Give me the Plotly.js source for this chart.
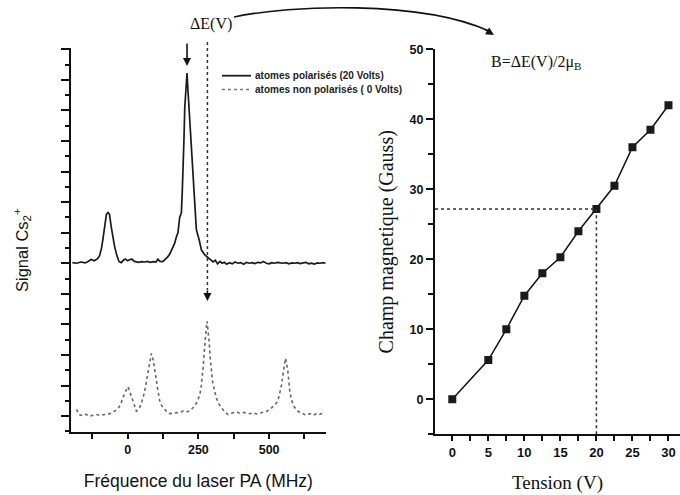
<!DOCTYPE html>
<html>
<head>
<meta charset="utf-8">
<script src="https://cdn.plot.ly/plotly-3.0.1.min.js"></script>
<style>html,body{margin:0;padding:0;background:#fff;}#chart{width:680px;height:495px;}</style>
</head>
<body>
<div id="chart"></div>
<script>
// ---- Data ----
var seriesNames = ['atomes polarisés (20 Volts)', 'atomes non polarisés ( 0 Volts)'];

// Left panel: spectra, frequency (MHz) vs signal (arb. units)
var freqPol = [-195,-180,-165,-150,-140,-129,-118,-106,-99,-92,-87,-81,-75,-69,-64,-58,-52,-46,-38,-30,-22,-15,-8,0,8,16,24,32,40,50,60,70,80,90,100,107,115,124,133,141,149,157,166,172,178,184,190,193,196,199,202,206,210,213,217,222,229,233,237,243,253,261,273,284,292,302,310,318,326,334,342,350,360,370,380,390,400,410,420,430,440,450,460,470,480,490,500,510,520,530,540,550,560,570,580,590,600,610,620,630,640,650,660,670,680,690,700];
var sigPol = [5.02,5.00,5.04,5.01,5.06,5.12,5.08,5.15,5.25,5.5,5.8,6.3,6.6,6.66,6.6,6.2,5.85,5.55,5.25,5.05,5.02,5.1,5.14,5.08,5.12,5.13,5.06,5.04,5.03,5.05,5.04,5.06,5.03,5.05,5.04,5.13,5.06,5.05,5.12,5.2,5.3,5.45,5.65,5.85,6.0,6.5,6.65,7.3,7.95,9.0,10.1,10.9,11.22,10.7,10.1,9.05,8.15,7.5,6.85,6.1,5.76,5.43,5.27,5.18,5.1,5.04,5.1,4.98,5.06,5.0,5.03,4.97,5.02,4.98,5.04,5.0,5.02,4.97,5.03,5.0,5.02,4.99,5.03,5.01,5.06,5.0,4.98,5.02,5.0,5.03,5.01,5.0,5.02,4.98,5.01,5.0,5.02,4.99,5.01,5.03,4.98,5.0,4.97,5.01,5.0,5.02,5.0];

var freqNon = [-180,-172,-160,-148,-135,-122,-110,-98,-86,-75,-64,-52,-43,-34,-27,-22,-16,-11,-5,1,6,10,15,19,25,31,37,42,50,56,60,66,72,78,84,90,96,100,104,108,113,120,131,140,149,160,172,184,196,208,220,232,243,250,255,260,264,267,270,273,276,279,281,284,288,292,296,300,305,310,314,322,332,343,355,365,375,385,395,408,420,432,444,456,468,480,491,503,515,524,532,538,544,548,552,555,558,562,566,570,574,579,585,594,603,615,625,633,645,656,666,676,684,692];
var sigNon = [0.22,0.05,0.02,0.06,0.0,0.03,0.05,0.02,0.04,0.05,0.08,0.12,0.18,0.24,0.35,0.45,0.6,0.74,0.85,0.96,0.85,0.74,0.58,0.42,0.28,0.16,0.2,0.27,0.45,0.62,0.8,1.1,1.45,1.8,2.05,1.85,1.56,1.28,1.01,0.78,0.52,0.35,0.2,0.12,0.08,0.09,0.1,0.12,0.16,0.13,0.17,0.28,0.42,0.55,0.69,0.95,1.24,1.6,2.0,2.4,2.77,3.0,3.1,2.85,2.44,1.9,1.45,1.15,0.91,0.72,0.58,0.4,0.26,0.14,0.05,0.09,0.12,0.13,0.1,0.12,0.1,0.08,0.11,0.07,0.1,0.13,0.15,0.22,0.31,0.4,0.53,0.75,1.02,1.3,1.56,1.75,1.89,1.7,1.5,1.1,0.75,0.55,0.36,0.24,0.15,0.1,0.05,0.04,0.08,0.03,0.07,0.04,0.08,0.05];

var leftXTicks = [-125, 0, 125, 250, 375, 500, 625];
var leftXLabels = ['', '0', '', '250', '', '500', ''];

// Right panel: magnetic field vs voltage
var tension = [0, 5, 7.5, 10, 12.5, 15, 17.5, 20, 22.5, 25, 27.5, 30];
var champ = [0, 5.6, 10, 14.8, 18, 20.3, 24, 27.2, 30.5, 36, 38.5, 42];
var markedIndex = 7; // 20 V point highlighted by dotted guides

// Peak positions marked by arrows (MHz)
var peakPol = 210;
var peakNon = 282;

// ---- Layout helpers (pixel -> paper) ----
var W = 680, H = 495;
function px(x) { return x / W; }
function py(y) { return 1 - y / H; }

var sans = 'Liberation Sans, Arial, sans-serif';
var serif = 'Liberation Serif, Times New Roman, serif';

var xr2 = [-2.4, 31.6];
var yr2 = [-5, 50];

var traces = [
  { x: freqPol, y: sigPol, xaxis: 'x', yaxis: 'y', type: 'scatter', mode: 'lines', name: seriesNames[0],
    line: { color: '#1a1a1a', width: 1.7 }, showlegend: false },
  { x: freqNon, y: sigNon, xaxis: 'x', yaxis: 'y', type: 'scatter', mode: 'lines', name: seriesNames[1],
    line: { color: '#666', width: 1.6, dash: 'dot' }, showlegend: false },
  { x: tension, y: champ, xaxis: 'x2', yaxis: 'y2', type: 'scatter', mode: 'lines+markers', name: 'B(V)',
    line: { color: '#111', width: 1.5 }, marker: { symbol: 'square', size: 8, color: '#1a1a1a' }, showlegend: false }
];

var axisCommon = { showgrid: false, zeroline: false, showline: true, linecolor: '#111', linewidth: 2,
  ticks: 'outside', tickcolor: '#111', tickwidth: 2, mirror: false };

var layout = {
  width: W, height: H,
  margin: { l: 0, r: 0, t: 0, b: 0 },
  paper_bgcolor: '#fff', plot_bgcolor: '#fff',
  showlegend: false,
  xaxis: Object.assign({}, axisCommon, {
    domain: [px(71), px(325.7)], range: [-200, 700], anchor: 'y',
    tickmode: 'array', tickvals: leftXTicks, ticktext: leftXLabels, ticklen: 5,
    tickfont: { family: sans, size: 12.5, color: '#111', weight: 'bold' },
    title: { text: 'Fréquence du laser PA (MHz)', font: { family: sans, size: 17.5, color: '#111' }, standoff: 19 }
  }),
  yaxis: Object.assign({}, axisCommon, {
    domain: [py(432), py(48.3)], range: [-0.52, 12.03], anchor: 'x',
    tickmode: 'linear', tick0: 0, dtick: 1, ticklen: 8, showticklabels: false,
    minor: { tickmode: 'linear', tick0: 0.5, dtick: 1, ticklen: 4, tickwidth: 2, tickcolor: '#111', ticks: 'outside', showgrid: false }
  }),
  xaxis2: Object.assign({}, axisCommon, {
    domain: [px(435), 1], range: xr2, anchor: 'y2',
    tickmode: 'linear', tick0: 0, dtick: 5, ticklen: 5,
    minor: { tickmode: 'linear', tick0: 2.5, dtick: 5, ticklen: 5, tickwidth: 2, tickcolor: '#111', ticks: 'outside', showgrid: false },
    tickfont: { family: sans, size: 13, color: '#111', weight: 'bold' },
    title: { text: 'Tension (V)', font: { family: serif, size: 19, color: '#111' }, standoff: 17 }
  }),
  yaxis2: Object.assign({}, axisCommon, {
    domain: [py(434.3), py(49.3)], range: yr2, anchor: 'x2',
    tickmode: 'linear', tick0: 0, dtick: 10, ticklen: 7,
    minor: { tickmode: 'linear', tick0: 5, dtick: 10, ticklen: 5, tickwidth: 2, tickcolor: '#111', ticks: 'outside', showgrid: false },
    tickfont: { family: sans, size: 12.5, color: '#111', weight: 'bold' },
    title: { text: 'Champ magnetique (Gauss)', font: { family: serif, size: 20, color: '#111' }, standoff: 11 }
  }),
  shapes: [
    // dotted vertical marker at the shifted peak (left panel)
    { type: 'line', xref: 'x', yref: 'paper', x0: peakNon, x1: peakNon, y0: py(42), y1: py(290),
      line: { color: '#333', width: 1.5, dash: 'dot' } },
    // dotted guides for the 20 V point (right panel)
    { type: 'line', xref: 'x2', yref: 'y2', x0: xr2[0], x1: tension[markedIndex], y0: champ[markedIndex], y1: champ[markedIndex],
      line: { color: '#333', width: 1.5, dash: 'dot' } },
    { type: 'line', xref: 'x2', yref: 'y2', x0: tension[markedIndex], x1: tension[markedIndex], y0: yr2[0], y1: champ[markedIndex],
      line: { color: '#333', width: 1.5, dash: 'dot' } },
    // legend samples
    { type: 'line', xref: 'paper', yref: 'paper', x0: px(222), x1: px(251), y0: py(75.7), y1: py(75.7),
      line: { color: '#1a1a1a', width: 1.8 } },
    { type: 'line', xref: 'paper', yref: 'paper', x0: px(222), x1: px(251), y0: py(89.5), y1: py(89.5),
      line: { color: '#777', width: 1.6, dash: 'dot' } },
    // curved arrow from ΔE(V) to the right panel
    { type: 'path', xref: 'paper', yref: 'paper',
      path: 'M ' + px(234) + ' ' + py(17) + ' C ' + px(290) + ' ' + py(5) + ', ' + px(420) + ' ' + py(0) + ', ' + px(489) + ' ' + py(31),
      line: { color: '#111', width: 1.6 } }
  ],
  annotations: [
    // left y-axis title
    { xref: 'paper', yref: 'paper', x: px(22), y: py(250), xanchor: 'center', yanchor: 'middle', showarrow: false,
      textangle: -90, text: 'Signal Cs<sub>2</sub><sup>+</sup>', font: { family: sans, size: 16.5, color: '#111' } },
    { xref: 'paper', yref: 'paper', x: px(253), y: py(75.7), xanchor: 'left', yanchor: 'middle', showarrow: false,
      text: seriesNames[0], font: { family: sans, size: 10, color: '#222', weight: 'bold' } },
    { xref: 'paper', yref: 'paper', x: px(253), y: py(89.5), xanchor: 'left', yanchor: 'middle', showarrow: false,
      text: seriesNames[1], font: { family: sans, size: 10, color: '#222', weight: 'bold' } },
    { xref: 'paper', yref: 'paper', x: px(211), y: py(24), xanchor: 'center', yanchor: 'middle', showarrow: false,
      text: 'ΔE(V)', font: { family: serif, size: 16, color: '#111' } },
    { xref: 'paper', yref: 'paper', x: px(536), y: py(63), xanchor: 'center', yanchor: 'middle', showarrow: false,
      text: 'B=ΔE(V)/2μ<sub>B</sub>', font: { family: serif, size: 16, color: '#111' } },
    // arrow heads
    { xref: 'paper', yref: 'paper', x: px(494), y: py(35), ax: -10, ay: -6, axref: 'pixel', ayref: 'pixel',
      showarrow: true, arrowhead: 2, arrowsize: 1, arrowwidth: 1.6, arrowcolor: '#111', text: '' },
    { xref: 'x', yref: 'paper', x: peakPol, y: py(66), ax: 0, ay: -24, showarrow: true,
      arrowhead: 2, arrowsize: 1, arrowwidth: 1.6, arrowcolor: '#111', text: '' },
    { xref: 'x', yref: 'paper', x: peakNon, y: py(301), ax: 0, ay: -12, showarrow: true,
      arrowhead: 2, arrowsize: 1, arrowwidth: 1.6, arrowcolor: '#111', text: '' }
  ]
};

Plotly.newPlot('chart', traces, layout, { displayModeBar: false, staticPlot: true });
</script>
</body>
</html>
